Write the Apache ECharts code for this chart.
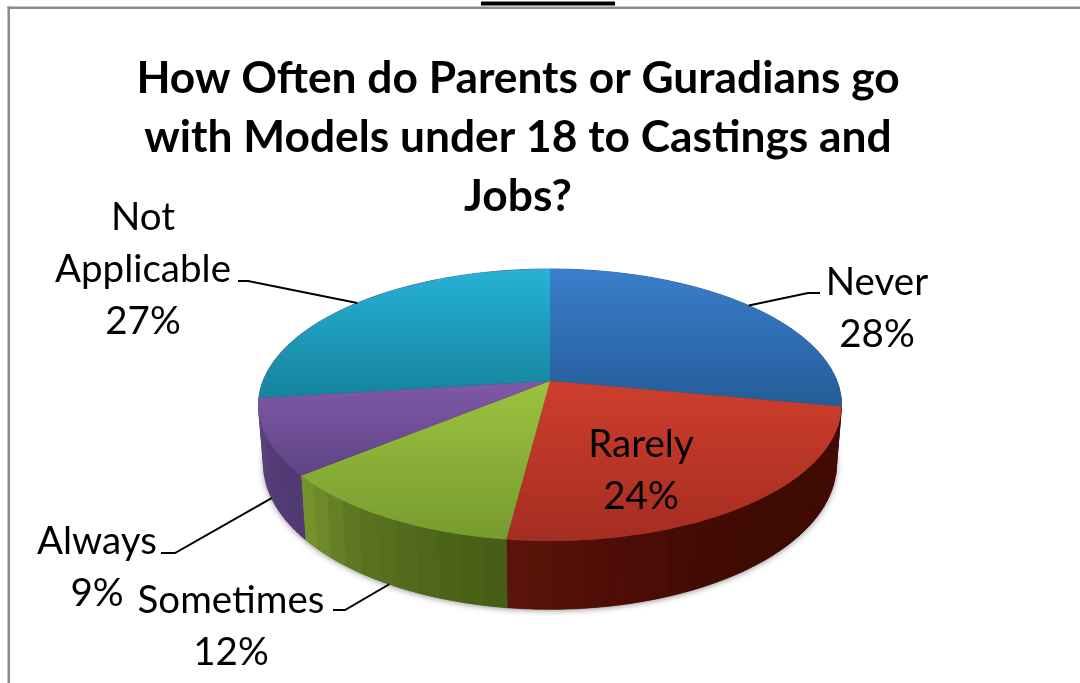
<!DOCTYPE html>
<html>
<head>
<meta charset="utf-8">
<style>html,body{margin:0;padding:0;background:#fff}#chart{width:1080px;height:683px}</style>
<script src="https://cdn.jsdelivr.net/npm/echarts@6/dist/echarts.min.js"></script>
</head>
<body>
<div id="chart"></div>
<script>
// Survey answers, in clockwise order from twelve o'clock
const categories = ['Never', 'Rarely', 'Sometimes', 'Always', 'Not Applicable'];
const shares = [28, 24, 12, 9, 27];
const chartTitle = 'How Often do Parents or Guradians go\nwith Models under 18 to Castings and\nJobs?';

// Slice appearance
const topGradients = [
  ['#3A7ECC', '#245C98'],
  ['#CE3E2C', '#A52D21'],
  ['#9CC240', '#779C2F'],
  ['#8059A8', '#5E4484'],
  ['#26B2D6', '#15839C']
];
const sideRamps = [
  ['#1F4F85', '#1F4F85'],
  ['#470B06', '#3E0A02', '#3F0A01', '#4B0C07', '#5B1509'],
  ['#445C15', '#4F681B', '#5C7522', '#7A962F'],
  ['#503A72', '#58417E'],
  ['#58417E', '#58417E']
];

// Text and leader placement for each slice
const labelPlaces = [
  { x: 877, y: 309, lines: ['Never', '28%'], elbow: [[808, 293], [820, 293]] },
  { x: 641, y: 471, lines: ['Rarely', '24%'], elbow: null },
  { x: 231, y: 627, lines: ['Sometimes', '12%'], elbow: [[345, 610], [333, 610]] },
  { x: 97, y: 568, lines: ['Always', '9%'], elbow: [[175, 553], [161, 553]] },
  { x: 143, y: 270, lines: ['Not', 'Applicable', '27%'], elbow: [[248, 281], [238, 281]] }
];

// Perspective view of the disc: rim of the top face and rim of the base
const CX = 550;
const topFace = { y: 381, rx: 287, ry: 131.8, k: 0.1765 };
const baseFace = { y: 438, rx: 282, ry: 141, k: 0.177 };

function project(face, deg) {
  const t = deg * Math.PI / 180;
  const u = Math.sin(t), v = -Math.cos(t);
  const d = 1 - face.k * v;
  return [CX + face.rx * u / d, face.y + face.ry * v / d];
}
function hex(c) { return [1, 3, 5].map(i => parseInt(c.substr(i, 2), 16)); }
function ramp(stops, f) {
  const p = Math.min(f, 0.9999) * (stops.length - 1), i = Math.floor(p), r = p - i;
  const a = hex(stops[i]), b = hex(stops[i + 1]);
  return 'rgb(' + a.map((c, n) => Math.round(c + (b[n] - c) * r)).join(',') + ')';
}
function arc(face, from, to, step) {
  const pts = [];
  const n = Math.max(1, Math.ceil((to - from) / step));
  for (let i = 0; i <= n; i++) pts.push(project(face, from + (to - from) * i / n));
  return pts;
}

const total = shares.reduce((a, b) => a + b, 0);
const FONT = 'Lato, "Open Sans", sans-serif';

function renderSlice(params, api) {
  const i = params.dataIndex;
  const share = api.value(0), before = api.value(1);
  const a0 = before / total * 360, a1 = (before + share) / total * 360;
  const children = [];

  // soft shadow under the base of the disc
  if (i === 0) {
    children.push({
      type: 'polygon', z2: 0,
      shape: { points: arc(baseFace, 0, 360, 2) },
      style: { fill: '#444', shadowBlur: 6, shadowColor: 'rgba(0,0,0,0.45)', shadowOffsetY: 1 }
    });
  }

  // rim wall, one shaded facet at a time
  const facet = 4;
  const count = Math.max(1, Math.round((a1 - a0) / facet));
  for (let n = 0; n < count; n++) {
    const s = a0 + (a1 - a0) * n / count, e = a0 + (a1 - a0) * (n + 1) / count;
    const color = ramp(sideRamps[i], (n + 0.5) / count);
    children.push({
      type: 'polygon', z2: 1,
      shape: { points: arc(topFace, s, e, 1).concat(arc(baseFace, s, e, 1).reverse()) },
      style: { fill: color, stroke: color, lineWidth: 0.7 }
    });
  }

  // top face of the slice
  children.push({
    type: 'polygon', z2: 2,
    shape: { points: [[CX, topFace.y]].concat(arc(topFace, a0, a1, 1)) },
    style: {
      fill: {
        type: 'linear', x: 0, y: 0, x2: 0, y2: 1,
        colorStops: [{ offset: 0, color: topGradients[i][0] }, { offset: 1, color: topGradients[i][1] }]
      }
    }
  });

  // leader from the middle of the slice's rim to its label
  const place = labelPlaces[i];
  if (place.elbow) {
    const mid = (a0 + a1) / 2;
    const front = Math.cos(mid * Math.PI / 180) < 0;
    children.push({
      type: 'polyline', z2: 3,
      shape: { points: [project(front && mid > 180 ? baseFace : topFace, mid)].concat(place.elbow) },
      style: { fill: 'none', stroke: '#000', lineWidth: 2 }
    });
  }

  children.push({
    type: 'text', z2: 4, x: place.x, y: place.y,
    style: {
      text: place.lines.join('\n'),
      fontFamily: FONT, fontSize: 38.5, lineHeight: 52,
      fill: '#000', align: 'center', verticalAlign: 'middle'
    }
  });
  return { type: 'group', children };
}

let running = 0;
const sliceData = categories.map((name, i) => {
  const row = { name, value: [shares[i], running] };
  running += shares[i];
  return row;
});

const chart = echarts.init(document.getElementById('chart'), null, { renderer: 'canvas' });
chart.setOption({
  animation: false,
  backgroundColor: '#ffffff',
  title: {
    text: chartTitle,
    left: 513, top: 44, textAlign: 'center',
    textStyle: { fontFamily: FONT, fontWeight: 'bold', fontSize: 44.3, lineHeight: 59, color: '#000' }
  },
  graphic: [
    { type: 'rect', shape: { x: 7.5, y: 6.5, width: 1073, height: 2.5 }, style: { fill: '#8C8C8C' } },
    { type: 'rect', shape: { x: 7.5, y: 6.5, width: 2.5, height: 677 }, style: { fill: '#8C8C8C' } },
    { type: 'rect', shape: { x: 481, y: 1.5, width: 134, height: 4 }, style: { fill: '#000' } }
  ],
  series: [{
    type: 'custom',
    coordinateSystem: 'none',
    renderItem: renderSlice,
    data: sliceData,
    silent: true
  }]
});
</script>
</body>
</html>
